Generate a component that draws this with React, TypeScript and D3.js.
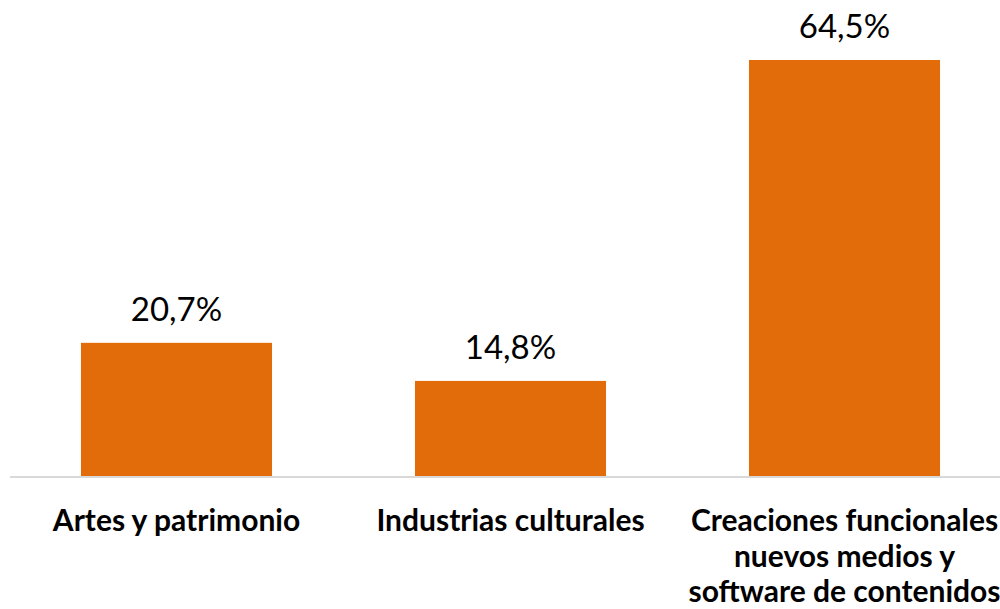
import React from "react";
import * as d3 from "d3";

const categories: string[][] = [
  ["Artes y patrimonio"],
  ["Industrias culturales"],
  ["Creaciones funcionales", "nuevos medios y", "software de contenidos"],
];
const values: number[] = [20.7, 14.8, 64.5];
const valueLabels: string[] = ["20,7%", "14,8%", "64,5%"];

const W = 1000;
const H = 609;
const baseY = 476.5;

export default function App() {
  const keys = categories.map((_, i) => String(i));
  const x = d3.scaleBand<string>().domain(keys).range([9.5, 1011.5]).paddingInner(0.428).paddingOuter(0.214);
  const y = d3.scaleLinear().domain([0, 64.5]).range([baseY, 60]);
  return (
    <svg
      width={W}
      height={H}
      style={{ position: "absolute", left: 0, top: 0, background: "#fff" }}
      fontFamily="Lato, 'Open Sans', sans-serif"
    >
      {values.map((v, i) => {
        const bx = x(String(i))!;
        return (
          <g key={i}>
            <rect x={bx} y={y(v)} width={x.bandwidth()} height={baseY - y(v)} fill="#e36c0a" />
            <text
              x={bx + x.bandwidth() / 2}
              y={y(v) - 22}
              textAnchor="middle"
              fontSize={33}
              fill="#000"
            >
              {valueLabels[i]}
            </text>
          </g>
        );
      })}
      <line x1={10} x2={W} y1={baseY + 0.5} y2={baseY + 0.5} stroke="#d9d9d9" strokeWidth={2} />
      {categories.map((lines, i) => {
        const cx = x(String(i))! + x.bandwidth() / 2;
        return (
          <text key={i} x={cx} textAnchor="middle" fontSize={30} fontWeight="bold" fill="#000">
            {lines.map((l, j) => (
              <tspan key={j} x={cx} y={531 + j * 35.5}>
                {l}
              </tspan>
            ))}
          </text>
        );
      })}
    </svg>
  );
}
